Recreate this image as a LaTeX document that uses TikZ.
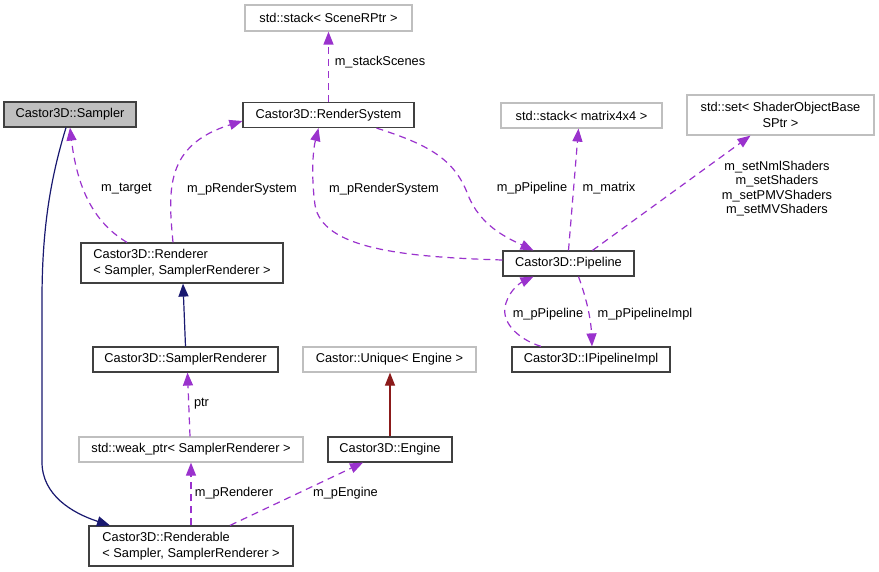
\documentclass[tikz,border=0pt]{standalone}
\usepackage{fontspec}
\setmainfont{Liberation Sans}
\definecolor{dxpurple}{HTML}{9A32CD}
\definecolor{dxnavy}{HTML}{191970}
\definecolor{dxred}{HTML}{8B1A1A}
\usetikzlibrary{arrows.meta}
\newcommand{\dxfont}{\fontsize{12.8}{15.5}\selectfont}
\tikzset{
  cls/.style={rectangle,draw=black!75,line width=1.2pt,fill=white,
              minimum height=25pt,inner sep=2pt,font=\dxfont,align=center},
  ext/.style={cls,draw=black!25},
  dep/.style={draw=dxpurple,line width=1.2pt,dash pattern=on 7pt off 5pt,
              -{Triangle[length=13pt,width=10pt,fill=dxpurple]}},
  inh/.style={draw=#1,line width=1.2pt,
              -{Triangle[length=13pt,width=10pt,fill=#1]}},
  inh/.default=dxnavy,
  lbl/.style={font=\dxfont,inner sep=0pt,align=center},
}

\begin{document}
\begin{tikzpicture}[x=1pt,y=-1pt]
  \useasboundingbox (0,0) rectangle (879,572);

  % classes
  \node[cls,fill=black!25,minimum width=132pt] (sampler) at (70,114.5) {Castor3D::Sampler};
  \node[ext,minimum width=167pt,minimum height=26pt] (scenestack) at (328.5,18) {std::stack< SceneRPtr >};
  \node[cls,minimum width=171pt] (rendersys) at (328.5,115) {Castor3D::RenderSystem};
  \node[ext,minimum width=161pt] (matstack) at (581.5,115.5) {std::stack< matrix4x4 >};
  \node[ext,minimum width=187pt,minimum height=40pt] (shaderset) at (780.5,115)
       {std::set< ShaderObjectBase\\SPtr >};
  \node[cls,align=left,minimum width=202pt,minimum height=40pt] (renderer) at (182,263)
       {Castor3D::Renderer\\< Sampler, SamplerRenderer >};
  \node[cls,minimum width=131pt] (pipeline) at (568.5,263.5) {Castor3D::Pipeline};
  \node[cls,minimum width=158pt] (pipeimpl) at (591,359.5) {Castor3D::IPipelineImpl};
  \node[cls,minimum width=185pt] (samplerrend) at (185.5,359.5) {Castor3D::SamplerRenderer};
  \node[ext,minimum width=173pt] (uniqueeng) at (389.5,359.5) {Castor::Unique< Engine >};
  \node[ext,minimum width=224pt] (weakptr) at (191,449.5) {std::weak\_ptr< SamplerRenderer >};
  \node[cls,minimum width=124pt] (engine) at (390,449.5) {Castor3D::Engine};
  \node[cls,align=left,minimum width=204pt,minimum height=40pt] (renderable) at (191,546)
       {Castor3D::Renderable\\< Sampler, SamplerRenderer >};

  % inheritance
  \draw[inh] ([xshift=-4pt]sampler.south) .. controls (50,180) and (42,230) .. (42,300)
        -- (42,462) .. controls (42,495) and (72,513) .. ([xshift=-81pt]renderable.north);
  \draw[inh] (samplerrend.north) -- ([xshift=1pt]renderer.south);
  \draw[inh=dxred] (engine.north) -- ([xshift=0.5pt]uniqueeng.south);

  % usage
  \draw[dep] ([xshift=-55pt]renderer.north) .. controls (98,225) and (78,195) .. (sampler.south);
  \draw[dep] ([xshift=-9pt]renderer.north) .. controls (168,190) and (165,145)
        .. ([yshift=-6pt]rendersys.west);
  \draw[dep] ([yshift=3.5pt]pipeline.west) .. controls (400,257) and (322,248) .. (315,205)
        .. controls (311,175) and (313,150) .. ([xshift=-10pt]rendersys.south);
  \draw[dep] ([xshift=48pt]rendersys.south) .. controls (430,145) and (455,160) .. (468,195)
        .. controls (480,225) and (505,237) .. ([xshift=-35pt]pipeline.north);
  \draw[dep] (pipeline.north) -- ([xshift=-3pt]matstack.south);
  \draw[dep] ([xshift=24pt]pipeline.north) -- ([xshift=-30pt]shaderset.south);
  \draw[dep] (rendersys.north) -- (scenestack.south);
  \draw[dep] ([xshift=10pt]pipeline.south) .. controls (587,300) and (591,320) .. ([xshift=1pt]pipeimpl.north);
  \draw[dep] ([xshift=-50pt]pipeimpl.north) .. controls (515,338) and (500,320) .. (506,303)
        .. controls (510,290) and (520,283) .. ([xshift=-35pt]pipeline.south);
  \draw[dep] ([xshift=-1pt]weakptr.north) -- ([xshift=2pt]samplerrend.south);
  \draw[dep] (renderable.north) -- (weakptr.south);
  \draw[dep] ([xshift=39pt]renderable.north) -- ([xshift=-27pt]engine.south);

  % labels
  \node[lbl] (targetlbl) at (126.5,189) {m\_target};
  \node[lbl] (rsyslbla) at (242,189) {m\_pRenderSystem};
  \node[lbl] (rsyslblb) at (384,189) {m\_pRenderSystem};
  \node[lbl] (pipelbla) at (532,188) {m\_pPipeline};
  \node[lbl] (matlbl) at (609,188) {m\_matrix};
  \node[lbl,font=\fontsize{12.8}{14.5}\selectfont] (shaderlbl) at (777,188.5)
       {m\_setNmlShaders\\m\_setShaders\\m\_setPMVShaders\\m\_setMVShaders};
  \node[lbl] (scenelbl) at (380,62) {m\_stackScenes};
  \node[lbl] (implbl) at (645,314.5) {m\_pPipelineImpl};
  \node[lbl] (pipelblb) at (548,314.5) {m\_pPipeline};
  \node[lbl] (ptrlbl) at (201.5,404) {ptr};
  \node[lbl] (rendlbl) at (234,493) {m\_pRenderer};
  \node[lbl] (englbl) at (345.5,493) {m\_pEngine};
\end{tikzpicture}
\end{document}
